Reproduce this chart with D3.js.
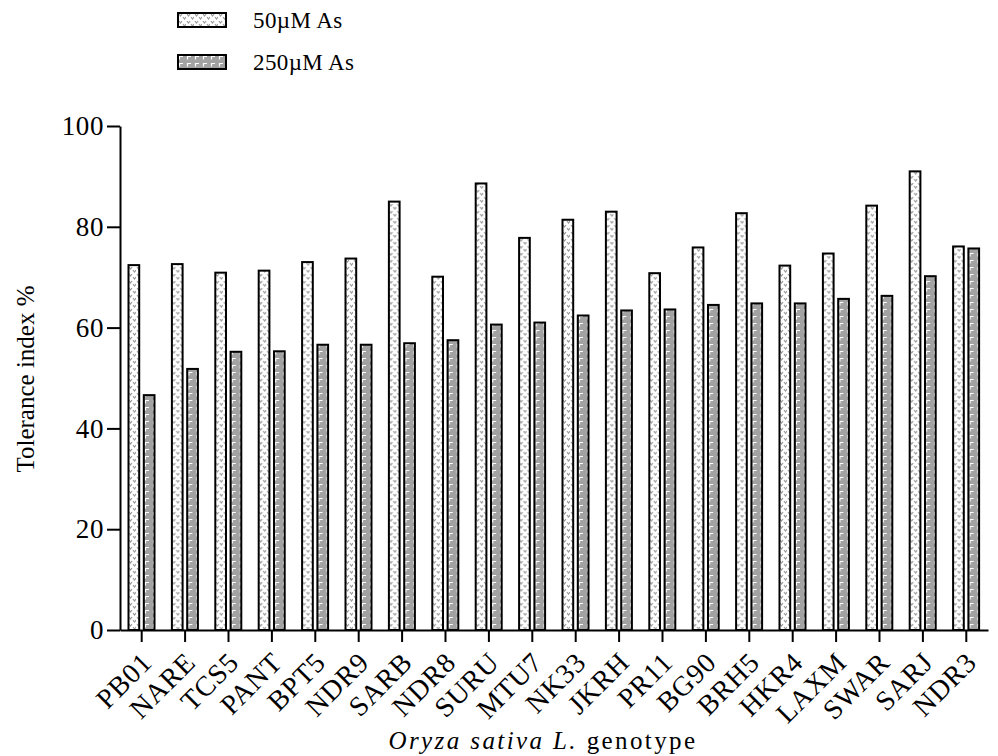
<!DOCTYPE html>
<html>
<head>
<meta charset="utf-8">
<script src="https://cdn.jsdelivr.net/npm/d3@7"></script>
<style>
body { margin: 0; background: #fff; }
svg text { font-family: "Liberation Serif", "Times New Roman", serif; fill: #000; }
</style>
</head>
<body>
<div id="chart"></div>
<script>
// data
const genotypes = ["PB01", "NARE", "TCS5", "PANT", "BPT5", "NDR9", "SARB", "NDR8", "SURU", "MTU7",
  "NK33", "JKRH", "PR11", "BG90", "BRH5", "HKR4", "LAXM", "SWAR", "SARJ", "NDR3"];
const series = ["50µM As", "250µM As"];
const as50 = [72.4, 72.6, 70.9, 71.3, 73.0, 73.7, 85.0, 70.1, 88.6, 77.8,
  81.4, 83.0, 70.8, 75.9, 82.7, 72.3, 74.7, 84.2, 91.0, 76.1];
const as250 = [46.6, 51.8, 55.2, 55.3, 56.6, 56.6, 56.9, 57.5, 60.6, 61.0,
  62.4, 63.4, 63.6, 64.5, 64.8, 64.8, 65.7, 66.3, 70.2, 75.7];
const yTicks = [0, 20, 40, 60, 80, 100];

const width = 998, height = 756;
const plot = { left: 120, right: 988, top: 126, bottom: 630 };

const svg = d3.select("#chart")
  .append("svg")
  .attr("width", width)
  .attr("height", height);

// fill patterns for the two series
const defs = svg.append("defs");
const p1 = defs.append("pattern")
  .attr("id", "pat50")
  .attr("patternUnits", "userSpaceOnUse")
  .attr("width", 8).attr("height", 7);
p1.append("rect").attr("width", 8).attr("height", 7).attr("fill", "#fff");
p1.append("path")
  .attr("d", "M1,1 L2.5,3 L4,1 M5,4 L6.5,6 L8,4")
  .attr("stroke", "#9a9a9a").attr("stroke-width", 1.2).attr("fill", "none");

const p2 = defs.append("pattern")
  .attr("id", "pat250")
  .attr("patternUnits", "userSpaceOnUse")
  .attr("width", 8).attr("height", 7);
p2.append("rect").attr("width", 8).attr("height", 7).attr("fill", "#a2a2a2");
p2.append("path")
  .attr("d", "M1,1.5 L5,1.5 M1.5,1.5 L1.5,4.5")
  .attr("stroke", "#fff").attr("stroke-width", 1.2).attr("fill", "none");

const fills = ["url(#pat50)", "url(#pat250)"];

// scales
const xScale = d3.scaleBand()
  .domain(genotypes)
  .range([plot.left, plot.right]);
const xSub = d3.scaleBand()
  .domain(series)
  .range([8.5, 34.5])
  .paddingInner(0.3);
const yScale = d3.scaleLinear()
  .domain([0, 100])
  .range([plot.bottom, plot.top]);

const rows = genotypes.map((g, i) => ({ g, vals: [as50[i], as250[i]] }));

// bars
const groups = svg.selectAll("g.grp")
  .data(rows)
  .join("g")
  .attr("class", "grp")
  .attr("transform", d => `translate(${xScale(d.g)},0)`);

groups.selectAll("rect")
  .data(d => d.vals.map((v, k) => ({ s: series[k], v, k })))
  .join("rect")
  .attr("x", d => xSub(d.s))
  .attr("y", d => yScale(d.v))
  .attr("width", xSub.bandwidth())
  .attr("height", d => yScale(0) - yScale(d.v))
  .attr("fill", d => fills[d.k])
  .attr("stroke", "#000")
  .attr("stroke-width", 2);

// y axis
const leftAxis = d3.axisLeft(yScale)
  .tickValues(yTicks)
  .tickSize(13)
  .tickSizeOuter(0)
  .tickPadding(3);
const yAxisG = svg.append("g")
  .attr("transform", `translate(${plot.left},0)`)
  .call(leftAxis);
yAxisG.selectAll("path, line").attr("stroke", "#000").attr("stroke-width", 2);
yAxisG.selectAll("text")
  .style("font-family", "Liberation Serif")
  .style("font-size", "27px")
  .style("letter-spacing", "0.6px");

// x axis
const bottomAxis = d3.axisBottom(xScale)
  .tickSize(12)
  .tickSizeOuter(0)
  .tickFormat("");
const xAxisG = svg.append("g")
  .attr("transform", `translate(0,${plot.bottom})`)
  .call(bottomAxis);
xAxisG.selectAll("path, line").attr("stroke", "#000").attr("stroke-width", 2);

// rotated category labels
svg.append("g")
  .selectAll("text")
  .data(genotypes)
  .join("text")
  .attr("transform", d => `translate(${xScale(d) + xScale.bandwidth() / 2 + 12},${plot.bottom + 34}) rotate(-45)`)
  .attr("text-anchor", "end")
  .style("font-size", "28px")
  .style("letter-spacing", "0.8px")
  .text(d => d);

// axis titles
svg.append("text")
  .attr("x", 543)
  .attr("y", 749)
  .attr("text-anchor", "middle")
  .style("font-size", "25px")
  .style("letter-spacing", "2.4px")
  .html('<tspan font-style="italic">Oryza sativa L.</tspan> genotype');

svg.append("text")
  .attr("transform", "translate(34,379) rotate(-90)")
  .attr("text-anchor", "middle")
  .style("font-size", "25px")
  .text("Tolerance index %");

// legend
const legend = svg.append("g")
  .selectAll("g")
  .data(series)
  .join("g")
  .attr("transform", (d, i) => `translate(178,${13 + i * 42})`);
legend.append("rect")
  .attr("width", 48)
  .attr("height", 14)
  .attr("fill", (d, i) => fills[i])
  .attr("stroke", "#000")
  .attr("stroke-width", 2);
legend.append("text")
  .attr("x", 75)
  .attr("y", 15)
  .style("font-size", "23px")
  .style("letter-spacing", "0.4px")
  .text(d => d);
</script>
</body>
</html>
